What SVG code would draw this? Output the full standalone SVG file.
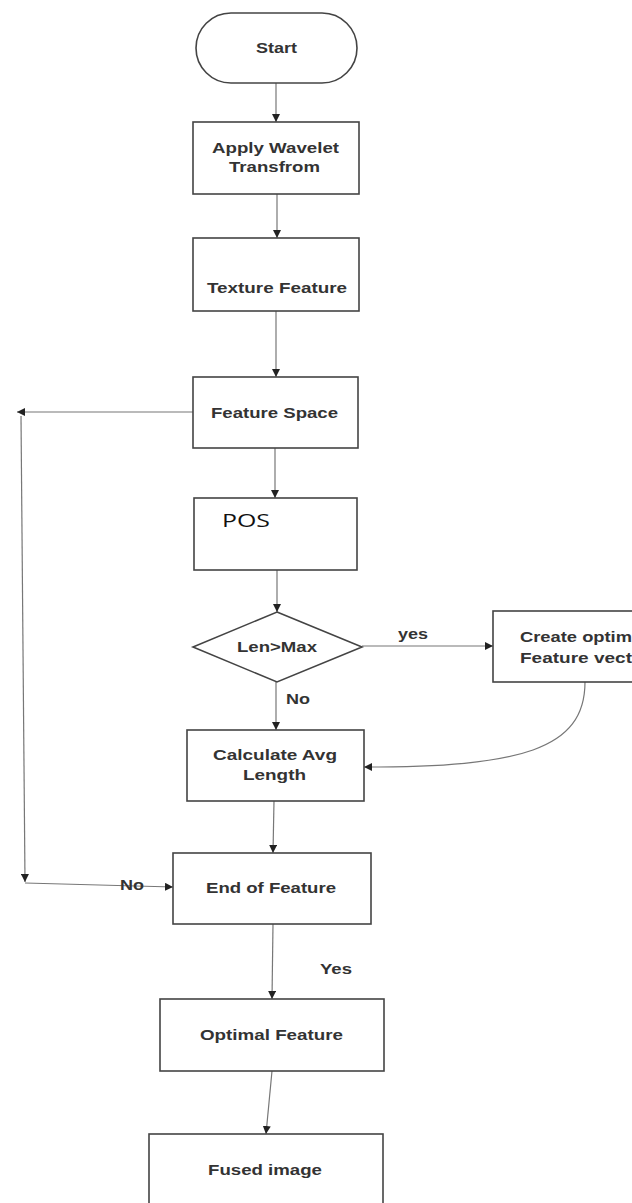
<svg xmlns="http://www.w3.org/2000/svg" width="632" height="1203" viewBox="0 0 632 1203">
<style>
.box{fill:#fff;stroke:#444;stroke-width:1.6}
.ln{fill:none;stroke:#777;stroke-width:1.2}
.t{font-family:"Liberation Sans",Arial,sans-serif;font-weight:bold;font-size:15px;fill:#333;text-anchor:middle}
.pos{font-family:"Open Sans","Noto Sans",sans-serif;font-size:19px;fill:#111}
</style>
<defs>
<marker id="ah" viewBox="0 0 10 10" refX="10" refY="5" markerWidth="8" markerHeight="8" markerUnits="userSpaceOnUse" orient="auto">
<path d="M0,0 L10,5 L0,10 z" fill="#222"/>
</marker>
</defs>
<rect width="632" height="1203" fill="#fff"/>
<g id="connectors">
<line class="ln" x1="276" y1="83" x2="276" y2="122" marker-end="url(#ah)"/>
<line class="ln" x1="277" y1="194" x2="277" y2="238" marker-end="url(#ah)"/>
<line class="ln" x1="276" y1="311" x2="276" y2="377" marker-end="url(#ah)"/>
<line class="ln" x1="193" y1="412" x2="17" y2="412" marker-end="url(#ah)"/>
<line class="ln" x1="275" y1="448" x2="275" y2="498" marker-end="url(#ah)"/>
<line class="ln" x1="277" y1="570" x2="277" y2="612" marker-end="url(#ah)"/>
<line class="ln" x1="362" y1="646" x2="493" y2="646" marker-end="url(#ah)"/>
<line class="ln" x1="276" y1="682" x2="276" y2="730" marker-end="url(#ah)"/>
<path class="ln" d="M585,682 C585,750 520,767 364,767" marker-end="url(#ah)"/>
<line class="ln" x1="274" y1="801" x2="273" y2="853" marker-end="url(#ah)"/>
<line class="ln" x1="21" y1="416" x2="25" y2="882" marker-end="url(#ah)"/>
<line class="ln" x1="25" y1="883" x2="173" y2="887" marker-end="url(#ah)"/>
<line class="ln" x1="273" y1="924" x2="272" y2="999" marker-end="url(#ah)"/>
<line class="ln" x1="272" y1="1071" x2="266" y2="1134" marker-end="url(#ah)"/>
<text class="t" x="413" y="639" textLength="30" lengthAdjust="spacingAndGlyphs">yes</text>
<text class="t" x="298" y="704" textLength="24" lengthAdjust="spacingAndGlyphs">No</text>
<text class="t" x="132" y="890" textLength="24" lengthAdjust="spacingAndGlyphs">No</text>
<text class="t" x="336" y="974" textLength="32" lengthAdjust="spacingAndGlyphs">Yes</text>
</g>
<g id="start">
<rect class="box" x="196" y="13" width="161" height="70" rx="35" ry="35"/>
<text class="t" x="276.5" y="53" textLength="41" lengthAdjust="spacingAndGlyphs">Start</text>
</g>
<g id="wavelet">
<rect class="box" x="193" y="122" width="166" height="72"/>
<text class="t" x="275.5" y="153" textLength="127" lengthAdjust="spacingAndGlyphs">Apply Wavelet</text>
<text class="t" x="274.5" y="172" textLength="91" lengthAdjust="spacingAndGlyphs">Transfrom</text>
</g>
<g id="texture">
<rect class="box" x="193" y="238" width="166" height="73"/>
<text class="t" x="277" y="293" textLength="140" lengthAdjust="spacingAndGlyphs">Texture Feature</text>
</g>
<g id="featurespace">
<rect class="box" x="193" y="377" width="165" height="71"/>
<text class="t" x="274.5" y="418" textLength="127" lengthAdjust="spacingAndGlyphs">Feature Space</text>
</g>
<g id="pos">
<rect class="box" x="194" y="498" width="163" height="72"/>
<text class="pos" x="222" y="527" textLength="48" lengthAdjust="spacingAndGlyphs">POS</text>
</g>
<g id="decision">
<polygon class="box" points="277,612 362,647 277,682 193,647"/>
<text class="t" x="277" y="652" textLength="80" lengthAdjust="spacingAndGlyphs">Len&gt;Max</text>
</g>
<g id="create">
<rect class="box" x="493" y="611" width="150" height="71"/>
<text class="t" x="520" y="642" style="text-anchor:start" textLength="112" lengthAdjust="spacingAndGlyphs">Create optim</text>
<text class="t" x="520" y="663" style="text-anchor:start" textLength="112" lengthAdjust="spacingAndGlyphs">Feature vect</text>
</g>
<g id="calculate">
<rect class="box" x="187" y="730" width="177" height="71"/>
<text class="t" x="275" y="760" textLength="124" lengthAdjust="spacingAndGlyphs">Calculate Avg</text>
<text class="t" x="274.5" y="780" textLength="63" lengthAdjust="spacingAndGlyphs">Length</text>
</g>
<g id="endfeature">
<rect class="box" x="173" y="853" width="198" height="71"/>
<text class="t" x="271" y="893" textLength="130" lengthAdjust="spacingAndGlyphs">End of Feature</text>
</g>
<g id="optimal">
<rect class="box" x="160" y="999" width="224" height="72"/>
<text class="t" x="271.5" y="1040" textLength="143" lengthAdjust="spacingAndGlyphs">Optimal Feature</text>
</g>
<g id="fused">
<rect class="box" x="149" y="1134" width="234" height="75"/>
<text class="t" x="265" y="1175" textLength="114" lengthAdjust="spacingAndGlyphs">Fused image</text>
</g>
</svg>
